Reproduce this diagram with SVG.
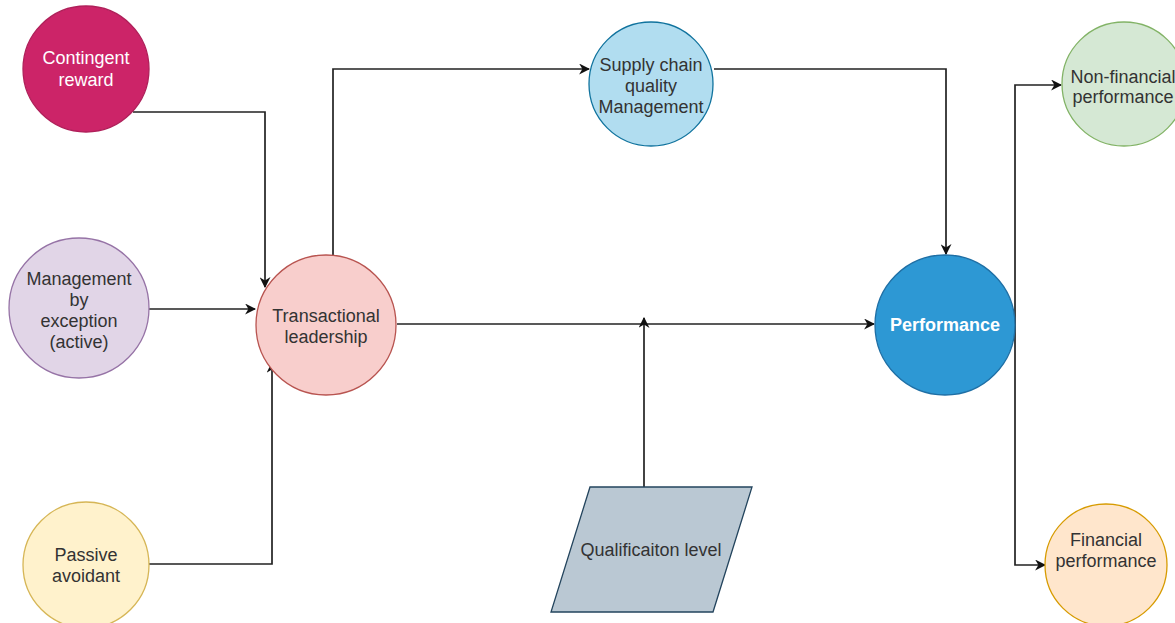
<svg xmlns="http://www.w3.org/2000/svg" width="1175" height="623" viewBox="0 0 1175 623">
<style>
text{font-family:"Liberation Sans",Arial,sans-serif;font-size:18px;text-anchor:middle;fill:#333}
.w{fill:#fff}
.c{stroke-width:1.3}
.e{fill:none;stroke:#222;stroke-width:1.7}
</style>
<defs>
<marker id="a" viewBox="0 0 10 10" refX="9" refY="5" markerWidth="11" markerHeight="11" markerUnits="userSpaceOnUse" orient="auto">
<path d="M0,0 L10,5 L0,10 L3,5 z" fill="#111"/>
</marker>
</defs>
<rect width="1175" height="623" fill="#fff"/>
<g id="connectors">
<path class="e" d="M133,112 H265 V287" marker-end="url(#a)"/>
<path class="e" d="M149,309 H255" marker-end="url(#a)"/>
<path class="e" d="M149,564 H272 V363" marker-end="url(#a)"/>
<path class="e" d="M333,256 V69 H589" marker-end="url(#a)"/>
<path class="e" d="M714,69 H946 V254" marker-end="url(#a)"/>
<path class="e" d="M397,324 H874" marker-end="url(#a)"/>
<path class="e" d="M644,487 V318" marker-end="url(#a)"/>
<path class="e" d="M1015,325 V85 H1061" marker-end="url(#a)"/>
<path class="e" d="M1015,325 V565 H1045" marker-end="url(#a)"/>
</g>
<g id="contingent-reward">
<circle class="c" cx="86" cy="69" r="63" fill="#cc2468" stroke="#b0205a"/>
<text class="w" x="86" y="64">Contingent</text>
<text class="w" x="86" y="86">reward</text>
</g>
<g id="management-by-exception">
<circle class="c" cx="79" cy="308" r="70" fill="#e1d5e7" stroke="#9673a6"/>
<text x="79" y="285">Management</text>
<text x="79" y="306">by</text>
<text x="79" y="327">exception</text>
<text x="79" y="348">(active)</text>
</g>
<g id="passive-avoidant">
<circle class="c" cx="86" cy="565" r="63" fill="#fff2cc" stroke="#d6b656"/>
<text x="86" y="561">Passive</text>
<text x="86" y="582">avoidant</text>
</g>
<g id="transactional-leadership">
<circle class="c" cx="326" cy="325" r="70" fill="#f8cecc" stroke="#b85450"/>
<text x="326" y="322">Transactional</text>
<text x="326" y="343">leadership</text>
</g>
<g id="supply-chain-quality-management">
<circle class="c" cx="651" cy="84" r="62" fill="#b1ddf0" stroke="#10739e"/>
<text x="651" y="71">Supply chain</text>
<text x="651" y="92">quality</text>
<text x="651" y="113">Management</text>
</g>
<g id="performance">
<circle class="c" cx="945" cy="325" r="70" fill="#2d98d4" stroke="#1e6fa5"/>
<text class="w" x="945" y="331" font-weight="bold">Performance</text>
</g>
<g id="qualification-level">
<polygon class="c" points="590,487 752,487 713,612 551,612" fill="#bac8d3" stroke="#23445d"/>
<text x="651" y="556">Qualificaiton level</text>
</g>
<g id="non-financial-performance">
<circle class="c" cx="1124" cy="84" r="62" fill="#d5e8d4" stroke="#82b366"/>
<text x="1123" y="83">Non-financial</text>
<text x="1123" y="103">performance</text>
</g>
<g id="financial-performance">
<circle class="c" cx="1106" cy="565" r="61" fill="#ffe6cc" stroke="#d79b00"/>
<text x="1106" y="546">Financial</text>
<text x="1106" y="567">performance</text>
</g>
</svg>
